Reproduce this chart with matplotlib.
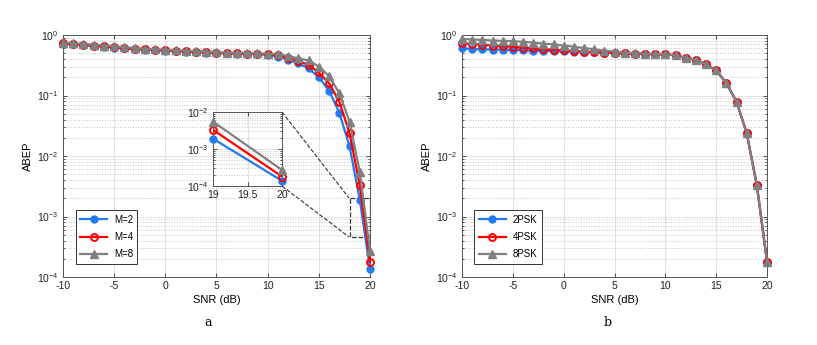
import numpy as np
import matplotlib
matplotlib.use('Agg')
from matplotlib import pyplot as plt
from matplotlib.ticker import LogLocator, NullFormatter, FixedLocator

snr = list(range(-10, 21))

# panel a
m2 = [0.72, 0.70, 0.68, 0.66, 0.64, 0.62, 0.60, 0.58, 0.57, 0.56, 0.55,
      0.54, 0.53, 0.52, 0.51, 0.50, 0.50, 0.49, 0.49, 0.48, 0.47,
      0.44, 0.39, 0.34, 0.28, 0.20, 0.12, 0.052, 0.0145, 0.0019, 0.000138]
m4 = [0.73, 0.71, 0.69, 0.67, 0.65, 0.63, 0.61, 0.59, 0.58, 0.57, 0.56,
      0.55, 0.54, 0.53, 0.52, 0.51, 0.50, 0.50, 0.49, 0.49, 0.48,
      0.46, 0.42, 0.37, 0.32, 0.24, 0.16, 0.079, 0.024, 0.0033, 0.00018]
m8 = [0.75, 0.73, 0.71, 0.69, 0.67, 0.65, 0.63, 0.61, 0.59, 0.58, 0.57,
      0.56, 0.55, 0.54, 0.53, 0.52, 0.51, 0.51, 0.50, 0.50, 0.49,
      0.48, 0.45, 0.41, 0.38, 0.30, 0.21, 0.11, 0.037, 0.0055, 0.00027]

# panel b
psk2 = [0.60, 0.59, 0.58, 0.575, 0.57, 0.565, 0.56, 0.55, 0.545, 0.54, 0.535,
        0.53, 0.525, 0.52, 0.51, 0.50, 0.50, 0.49, 0.49, 0.48, 0.48,
        0.46, 0.42, 0.39, 0.33, 0.26, 0.16, 0.079, 0.024, 0.0033, 0.00018]
psk4 = [0.73, 0.71, 0.69, 0.67, 0.655, 0.64, 0.62, 0.60, 0.585, 0.57, 0.555,
        0.54, 0.53, 0.515, 0.51, 0.50, 0.50, 0.49, 0.49, 0.48, 0.48,
        0.46, 0.42, 0.39, 0.33, 0.26, 0.16, 0.079, 0.024, 0.0033, 0.00018]
psk8 = [0.86, 0.84, 0.83, 0.81, 0.80, 0.79, 0.77, 0.75, 0.72, 0.70, 0.67,
        0.64, 0.61, 0.58, 0.55, 0.53, 0.51, 0.50, 0.49, 0.485, 0.48,
        0.46, 0.42, 0.39, 0.33, 0.26, 0.16, 0.079, 0.024, 0.0033, 0.00018]

labels_a = ['M=2', 'M=4', 'M=8']
labels_b = ['2PSK', '4PSK', '8PSK']

blue = '#1f7cf0'
red = '#ff0000'
gray = '#808080'

plt.rcParams['font.family'] = ['Liberation Sans', 'DejaVu Sans']
plt.rcParams['font.size'] = 7.5
plt.rcParams['axes.unicode_minus'] = False
plt.rcParams['mathtext.fontset'] = 'custom'
plt.rcParams['mathtext.rm'] = 'Liberation Sans'

styles = [dict(color=blue, marker='o', mfc=blue, mec=blue, mew=1.0, ms=5),
          dict(color=red, marker='o', mfc='none', mec=red, mew=1.4, ms=5),
          dict(color=gray, marker='^', mfc=gray, mec=gray, mew=1.0, ms=6)]


def style_axis(ax, xticks, yexp):
    ax.set_yscale('log')
    ax.tick_params(which='both', direction='in', top=True, right=True,
                   colors='#333333', labelcolor='#222222', length=3, width=0.6, pad=3)
    ax.tick_params(which='minor', length=1.5)
    for s in ax.spines.values():
        s.set_color('#555555')
        s.set_linewidth(0.7)
    ax.xaxis.set_major_locator(FixedLocator(xticks))
    ax.yaxis.set_major_locator(FixedLocator([10.0 ** e for e in yexp]))
    ax.yaxis.set_minor_locator(LogLocator(base=10, subs=np.arange(2, 10), numticks=20))
    ax.yaxis.set_minor_formatter(NullFormatter())
    ax.set_yticklabels([r'10$^{\mathregular{%d}}$' % e for e in yexp])
    ax.grid(True, which='major', color='#dcdcdc', linewidth=0.6)
    ax.grid(True, which='minor', axis='y', color='#c8c8c8', linestyle=':', linewidth=0.7)
    ax.set_axisbelow(True)


fig = plt.figure(figsize=(8.17, 3.45), dpi=100)
W, H = 817, 345
ax_a = fig.add_axes([63 / W, 1 - 277 / H, 307 / W, 242 / H])
ax_b = fig.add_axes([462 / W, 1 - 277 / H, 305 / W, 242 / H])

for ax, ys, labels in [(ax_a, [m2, m4, m8], labels_a), (ax_b, [psk2, psk4, psk8], labels_b)]:
    lines = []
    for y, st in zip(ys, styles):
        ln, = ax.plot(snr, y, '-', lw=1.6, clip_on=False, zorder=3, **st)
        lines.append(ln)
    style_axis(ax, [-10, -5, 0, 5, 10, 15, 20], [0, -1, -2, -3, -4])
    ax.set_xlim(-10, 20)
    ax.set_ylim(1e-4, 1)
    ax.set_xlabel('SNR (dB)', fontsize=8, labelpad=3)
    ax.set_ylabel('ABEP', fontsize=8, labelpad=3)
    leg = ax.legend(lines, labels, loc='lower left', bbox_to_anchor=(0.025, 0.035),
                    fancybox=False, edgecolor='#333333', framealpha=1,
                    handlelength=2.8, handletextpad=0.7, borderpad=0.45,
                    labelspacing=0.75, fontsize=7)
    leg.get_frame().set_linewidth(0.7)
    leg.set_zorder(5)

# zoom box on panel a
ax_a.plot([18, 20, 20, 18, 18], [2e-3, 2e-3, 4.6e-4, 4.6e-4, 2e-3], '--', color='#333333', lw=0.9)

# inset
ins = fig.add_axes([213 / W, 1 - 186 / H, 69 / W, 74 / H])
for y, st in zip([m2, m4, m8], styles):
    ins.plot(snr, y, '-', lw=1.6, color=st['color'], zorder=3)
    ins.plot(snr[-2:], y[-2:], ls='none', clip_on=False, zorder=4, **st)
style_axis(ins, [19, 19.5, 20], [-2, -3, -4])
ins.set_xticklabels(['19', '19.5', '20'])
ins.set_xlim(19, 20)
ins.set_ylim(1e-4, 1e-2)

# connector lines (figure coordinates)
fig.add_artist(plt.Line2D([282 / W, 349 / W], [1 - 112 / H, 1 - 198 / H],
                          transform=fig.transFigure, ls='--', color='#333333', lw=0.8))
fig.add_artist(plt.Line2D([282 / W, 349 / W], [1 - 186 / H, 1 - 237 / H],
                          transform=fig.transFigure, ls='--', color='#333333', lw=0.8))

fig.text(208 / W, 1 - 322 / H, 'a', family='DejaVu Serif', fontsize=9, ha='center', va='center')
fig.text(608 / W, 1 - 322 / H, 'b', family='DejaVu Serif', fontsize=9, ha='center', va='center')

fig.savefig('out.png', dpi=100, facecolor='white')
plt.close(fig)
